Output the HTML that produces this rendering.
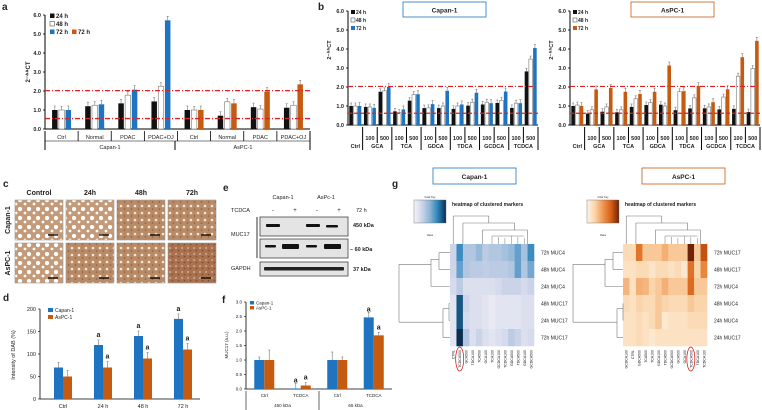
<!DOCTYPE html>
<html><head><meta charset="utf-8"><style>
body{margin:0;background:#fff}
svg{display:block;font-family:"Liberation Sans",Arial,sans-serif}
text{fill:#222}
</style></head><body>
<svg id="s" width="762" height="410" viewBox="0 0 762 410" xmlns="http://www.w3.org/2000/svg">
<defs>
<pattern id="tex1" width="9" height="9" patternUnits="userSpaceOnUse"><rect width="9" height="9" fill="#c49a78"/><circle cx="2" cy="2" r="2.2" fill="#fff"/><circle cx="7" cy="6" r="1.4" fill="#fff"/></pattern>
<pattern id="tex2" width="7" height="7" patternUnits="userSpaceOnUse"><rect width="7" height="7" fill="#b98a66"/><circle cx="2" cy="3" r="1.3" fill="#f2e6dc"/><circle cx="5.5" cy="6" r="0.8" fill="#8a5a3a"/></pattern>
<pattern id="tex3" width="6" height="6" patternUnits="userSpaceOnUse"><rect width="6" height="6" fill="#a9714e"/><circle cx="2" cy="2" r="0.9" fill="#d9b8a0"/><circle cx="4.5" cy="4.5" r="0.8" fill="#7a4a30"/></pattern>
</defs>
</svg>
<script>
// ---- data ----
const aCats=["Ctrl","Normal","PDAC","PDAC+OJ","Ctrl","Normal","PDAC","PDAC+OJ"];
const a24=[1.0,1.2,1.35,1.45,1.0,0.7,1.15,1.12];
const a48=[1.0,1.25,1.78,2.25,1.0,1.43,1.05,1.25];
const a72=[1.0,1.3,2.07,5.72,1.0,1.35,1.97,2.35];
const aTicks=["0.0","1.0","2.0","3.0","4.0","5.0","6.0"];
const bCats=["Ctrl","GCA","TCA","GDCA","TDCA","GCDCA","TCDCA"];
const bCap24=[1.0,0.95,1.75,0.72,1.28,0.89,0.89,0.85,1.02,1.08,1.16,0.9,2.82];
const bCap48=[1.0,0.95,1.8,0.65,1.6,0.9,1.0,1.0,1.2,1.2,1.3,1.15,3.47];
const bCap72=[1.0,0.9,2.0,0.82,1.62,1.1,1.8,1.08,1.7,1.15,1.76,1.15,4.05];
const bAs24=[1.0,0.6,0.7,0.67,0.95,1.05,1.07,0.78,0.87,0.88,0.82,0.85,0.68];
const bAs48=[1.05,0.8,0.95,0.8,1.38,1.18,1.0,1.75,1.43,0.95,1.47,2.57,2.97];
const bAs72=[1.0,1.87,1.95,1.75,1.63,1.75,3.13,1.78,2.05,1.2,1.88,3.57,4.43];
const dCats=["Ctrl","24 h","48 h","72 h"];
const dCap=[70,120,140,178];
const dAs=[50,70,90,110];
const dTicks=["0","50","100","150","200"];
const fCats=["Ctrl","TCDCA","Ctrl","TCDCA"];
const fCap=[1.0,0.02,1.0,2.47];
const fAs=[1.0,0.12,1.0,1.85];
const fTicks=["0.0","0.5","1.0","1.5","2.0","2.5","3.0"];
const gCapRows=["72h MUC4","48h MUC4","24h MUC4","48h MUC17","24h MUC17","72h MUC17"];
const gCapCols=["CTRL","TCDCA500","GCA500","TDCA100","TCA500","GCA100","TCA100","GCDCA100","TCDCA100","GDCA500","TDCA500","GDCA100","GCDCA500"];
const gCapVals=[
[1.2,3.5,1.8,1.8,2.3,1.6,1.8,1.8,2,2.3,3,2,3.5],
[1.2,3,1.8,1.6,1.6,1.5,1.6,1.6,1.6,1.8,3,1.8,2.8],
[1,1.6,0.8,0.8,0.8,0.8,0.8,1,1.3,1.3,1.3,1,1.3],
[0.6,4.4,1.2,0.8,0.8,0.6,0.4,0.6,0.6,0.6,0.6,0.8,0.8],
[0.6,4.4,1,0.8,0.8,0.6,0.4,0.6,0.6,0.6,0.6,0.8,0.8],
[0.6,5,1.8,0.8,1.3,0.8,0.6,0.8,1,1.6,1.3,0.8,1]];
const gAsRows=["72h MUC17","48h MUC17","72h MUC4","48h MUC4","24h MUC4","24h MUC17"];
const gAsCols=["GCDCA100","CTRL","GDCA500","TCA500","TCA100","GDCA100","TDCA500","GCDCA500","GCA500","GCA100","TCDCA500","TDCA100","TCDCA100"];
const gAsVals=[
[0.8,0.8,2.6,1.2,1.2,1.2,1.6,1.2,1.2,1.2,4,1.2,3.2],
[0.6,0.6,0.8,0.8,0.5,0.8,0.8,0.6,0.8,0.4,2.7,1,2.3],
[1.5,0.6,1.6,1.5,1,1.2,1.6,1.2,1.2,1.2,2.8,1.2,1.2],
[0.8,0.6,1,0.8,0.8,1.2,1,0.8,0.8,0.8,1.2,1,1],
[0.6,0.6,0.8,0.6,0.8,1.2,0.4,0.6,0.6,0.6,0.8,0.8,0.8],
[0.6,0.6,0.8,0.6,0.4,0.6,0.6,0.6,0.6,0.6,0.6,0.6,0.6]];

const BLUE="#1f74c2",ORANGE="#c55a11",RED="#e02020";
const S=document.getElementById('s');
function el(tag,at,parent){const e=document.createElementNS("http://www.w3.org/2000/svg",tag);for(const k in at)e.setAttribute(k,at[k]);(parent||S).appendChild(e);return e;}
function tx(x,y,t,sz,opt){opt=opt||{};const e=el('text',{x:x,y:y,'font-size':sz,'text-anchor':opt.a||'start','font-weight':opt.b?'bold':'normal'},opt.p);if(opt.fill)e.setAttribute('fill',opt.fill);if(opt.rot)e.setAttribute('transform','rotate('+opt.rot+' '+x+' '+y+')');e.textContent=t;return e;}
function ln(x1,y1,x2,y2,c,w,p,d){const e=el('line',{x1:x1,y1:y1,x2:x2,y2:y2,stroke:c||'#000','stroke-width':w||1},p);if(d)e.setAttribute('stroke-dasharray',d);return e;}
function grp(name){const g=el('g',{});return g;}

function bar(p,x,w,y0,y,fill,name,err){
 const r=el('rect',{x:x,y:Math.min(y,y0),width:w,height:Math.abs(y0-y),fill:fill,stroke:fill==='#fff'?'#777':'none','stroke-width':0.6},p);
 
 
 if(err){ln(x+w/2,y,x+w/2,y-err,'#888',0.7,p);ln(x+w/2-1,y-err,x+w/2+1,y-err,'#888',0.7,p);}
}

// ---------- panel a ----------
(function(){
 const g=grp('panel-a');
 const X0=45,X1=310,Y0=129,PU=19;
 const y=v=>Y0-v*PU;
 tx(2,10,'a',10,{b:1,p:g});
 ln(X0,y(6),X0,Y0,'#000',1,g);ln(X0,Y0,X1,Y0,'#000',1,g);
 aTicks.forEach((t,i)=>{tx(X0-4,y(+t)+2,t,5.5,{a:'end',b:1,p:g});ln(X0-2,y(+t),X0,y(+t),'#000',0.8,g);});
 tx(30,72,'2⁻ᐞᐞCT',6,{b:1,rot:-90,a:'middle',p:g});
 const gw=(X1-X0)/aCats.length;
 aCats.forEach((c,i)=>{const cx=X0+gw*(i+0.5);const col=i<4?BLUE:ORANGE;
  bar(g,cx-9.5,5.5,Y0,y(a24[i]),'#111','bar-24h-'+i,4);
  bar(g,cx-2.7,5.5,Y0,y(a48[i]),'#fff','bar-48h-'+i,3.5);
  bar(g,cx+4,5.5,Y0,y(a72[i]),col,'bar-72h-'+i,4);
  tx(cx,139,c,5.5,{a:'middle',p:g});
  ln(X0+gw*i,131,X0+gw*i,141,'#000',0.8,g);
 });
 ln(X0,131,X0,150,'#000',1,g);ln(175,141,175,150,'#000',1,g);ln(310,131,310,150,'#000',1,g);
 ln(X0,141,X1,141,'#000',0.6,g);
 tx(110,149,'Capan-1',5.5,{a:'middle',p:g});tx(243,149,'AsPC-1',5.5,{a:'middle',p:g});
 ln(X0,y(2.02),X1,y(2.02),RED,1.3,g,'5,2,1,2');ln(X0,y(0.55),X1,y(0.55),RED,1.3,g,'5,2,1,2');
 [['24 h','#111',50,18],['48 h','#fff',50,26],['72 h',BLUE,50,34],['72 h',ORANGE,72,34]].forEach(l=>{el('rect',{x:l[2],y:l[3]-4.5,width:4.5,height:4.5,fill:l[1],stroke:l[1]=='#fff'?'#555':'none','stroke-width':0.6},g);tx(l[2]+6,l[3],l[0],6,{b:1,p:g});});
})();

// ---------- panel b ----------
function panelB(name,X0,X1,d24,d48,d72,col,box,lbl){
 const g=grp(name);
 const Y0=125,PU=19;const y=v=>Y0-v*PU;
 ln(X0,y(6),X0,Y0,'#000',1,g);ln(X0,Y0,X1,Y0,'#000',1,g);
 aTicks.forEach(t=>{tx(X0-4,y(+t)+2,t,5.5,{a:'end',b:1,p:g});ln(X0-2,y(+t),X0,y(+t),'#000',0.8,g);});
 tx(X0-17,50,'2⁻ᐞᐞCT',5.5,{b:1,rot:-90,a:'middle',p:g});
 const gw=(X1-X0)/13;
 d24.forEach((v,i)=>{const cx=X0+gw*(i+0.5);
  bar(g,cx-6,3.6,Y0,y(d24[i]),'#111','bar-24h-'+i,3);
  bar(g,cx-1.8,3.6,Y0,y(d48[i]),'#fff','bar-48h-'+i,3);
  bar(g,cx+2.4,3.6,Y0,y(d72[i]),col,'bar-72h-'+i,3.5);
  if(i>0){tx(cx,140,i%2?'100':'500',5.5,{a:'middle',b:1,p:g});ln(X0+gw*i,127,X0+gw*i,143,'#000',1,g);}
 });
 tx(X0+gw*0.5,148,'Ctrl',5.5,{a:'middle',b:1,p:g});
 bCats.slice(1).forEach((c,k)=>{tx(X0+gw*(1+2*k+1),148,c,5.5,{a:'middle',b:1,p:g});ln(X0+gw*(1+2*k),143,X0+gw*(1+2*k),150,'#000',1,g);});
 ln(X1,127,X1,150,'#000',1,g);
 ln(X0,y(2.03),X1,y(2.03),RED,1.2,g,'5,2,1,2');ln(X0,y(0.62),X1,y(0.62),RED,1.2,g,'4,2');
 [['24 h','#111',14],['48 h','#fff',22],['72 h',col,30]].forEach(l=>{el('rect',{x:X0+3,y:l[2]-4,width:4,height:4,fill:l[1],stroke:l[1]=='#fff'?'#555':'none','stroke-width':0.6},g);tx(X0+8,l[2],l[0],5,{b:1,p:g});});
 el('rect',{x:box,y:2,width:83,height:15,fill:'#fff',stroke:col,'stroke-width':0.8},g);
 tx(box+41.5,12.5,lbl,6.5,{a:'middle',b:1,fill:col,p:g});
}
tx(318,10,'b',10,{b:1});
panelB('panel-b-capan',348,538,bCap24,bCap48,bCap72,BLUE,403,'Capan-1');
panelB('panel-b-aspc',570,760,bAs24,bAs48,bAs72,ORANGE,631,'AsPC-1');

// ---------- panel c ----------
(function(){
 const g=grp('panel-c');
 tx(3,187,'c',10,{b:1,p:g});
 ['Control','24h','48h','72h'].forEach((t,i)=>tx(39+51*i,195,t,7,{a:'middle',b:1,p:g}));
 tx(10,220,'Capan-1',7,{a:'middle',b:1,rot:-90,p:g});tx(10,263,'AsPC-1',7,{a:'middle',b:1,rot:-90,p:g});
 const tex=[['tex1','tex1','tex2','tex2'],['tex1','tex2','tex2','tex3']];
 for(let r=0;r<2;r++)for(let c=0;c<4;c++){const x=15+51*c,yy=200+43*r;
  el('rect',{x:x,y:yy,width:48,height:40,fill:'url(#'+tex[r][c]+')',stroke:'#999','stroke-width':0.6},g);
  ln(x+33,yy+35,x+43,yy+35,'#000',1.3,g);}
})();

// ---------- panel e ----------
(function(){
 const g=grp('panel-e');
 tx(223,191,'e',10,{b:1,p:g});
 tx(283,199,'Capan-1',5.5,{a:'middle',p:g});tx(326,199,'AsPc-1',5.5,{a:'middle',p:g});
 tx(231,212,'TCDCA',5.5,{p:g});['-','+','-','+'].forEach((t,i)=>tx(273+22*i,212,t,6,{a:'middle',p:g}));tx(356,212,'72 h',5.5,{p:g});
 tx(231,236,'MUC17',5.5,{p:g});tx(231,270,'GAPDH',5.5,{p:g});
 ln(257,217,257,258,'#000',0.8,g);
 [[260,217,19],[260,239,19],[260,262,14]].forEach(b=>el('rect',{x:b[0],y:b[1],width:88,height:b[2],fill:'#e4e4e4',stroke:'#444','stroke-width':0.8},g));
 [[266,224,14,3],[306,224,14,3],[326,225,12,2.5],[265,245,11,2.5],[282,244,17,5],[306,245,11,2.5],[324,244,17,5]].forEach(b=>el('rect',{x:b[0],y:b[1],width:b[2],height:b[3],fill:'#111',rx:1},g));
 el('rect',{x:264,y:267,width:80,height:3.5,fill:'#222',rx:1},g);
 tx(353,227,'450 kDa',5.5,{b:1,p:g});tx(350,251,'– 60 kDa',5.5,{b:1,p:g});tx(353,271,'37 kDa',5.5,{b:1,p:g});
})();

// ---------- panel d ----------
(function(){
 const g=grp('panel-d');
 tx(3,301,'d',10,{b:1,p:g});
 const X0=40,X1=200,Y0=399,PU=0.45;const y=v=>Y0-v*PU;
 ln(X0,y(200),X0,Y0,'#000',0.8,g);ln(X0,Y0,X1,Y0,'#000',0.8,g);
 dTicks.forEach(t=>{tx(X0-4,y(+t)+2,t,5.5,{a:'end',p:g});ln(X0-2,y(+t),X0,y(+t),'#000',0.6,g);});
 tx(15,355,'Intensity of DAB (%)',5.5,{a:'middle',rot:-90,p:g});
 const gw=(X1-X0)/4;
 dCats.forEach((c,i)=>{const cx=X0+gw*(i+0.5)+3;
  bar(g,cx-9,9,Y0,y(dCap[i]),BLUE,'bar-capan-'+i,5);
  bar(g,cx,9,Y0,y(dAs[i]),ORANGE,'bar-aspc-'+i,6);
  tx(cx,408,c,5.5,{a:'middle',p:g});
  if(i>0){tx(cx-4.5,y(dCap[i])-8,'a',7,{a:'middle',b:1,p:g});tx(cx+4.5,y(dAs[i])-9,'a',7,{a:'middle',b:1,p:g});}
 });
 el('rect',{x:48,y:308,width:5,height:4,fill:BLUE},g);tx(55,312,'Capan-1',5,{p:g});
 el('rect',{x:48,y:315,width:5,height:4,fill:ORANGE},g);tx(55,319,'AsPC-1',5,{p:g});
})();

// ---------- panel f ----------
(function(){
 const g=grp('panel-f');
 tx(222,303,'f',10,{b:1,p:g});
 const X0=246,X1=392,Y0=389,PU=29;const y=v=>Y0-v*PU;
 ln(X0,y(3),X0,Y0,'#000',0.8,g);ln(X0,Y0,X1,Y0,'#000',0.8,g);
 fTicks.forEach(t=>{tx(X0-4,y(+t)+1.5,t,4.5,{a:'end',p:g});ln(X0-2,y(+t),X0,y(+t),'#000',0.6,g);});
 tx(228,345,'MUC17 (a.u.)',4.5,{a:'middle',rot:-90,p:g});
 const gw=(X1-X0)/4;
 fCats.forEach((c,i)=>{const cx=X0+gw*(i+0.5);
  bar(g,cx-10,10,Y0,y(fCap[i]),BLUE,'bar-capan-'+i,i==0?3:i==2?8:5);
  bar(g,cx,10,Y0,y(fAs[i]),ORANGE,'bar-aspc-'+i,i==0?10:3);
  tx(cx,397,c,4.5,{a:'middle',p:g});
  if(i%2){tx(cx-5,y(fCap[i])-6,'a',7,{a:'middle',b:1,p:g});tx(cx+5,y(fAs[i])-6,'a',7,{a:'middle',b:1,p:g});}
 });
 ln(X0,391,X0,410,'#000',0.6,g);ln(X0+2*gw,391,X0+2*gw,410,'#000',0.6,g);
 tx(X0+gw,407,'450 kDa',4.5,{a:'middle',p:g});tx(X0+3*gw,407,'65 kDa',4.5,{a:'middle',p:g});
 el('rect',{x:250,y:301,width:4,height:3.5,fill:BLUE},g);tx(256,304.5,'Capan-1',4.5,{p:g});
 el('rect',{x:250,y:306,width:4,height:3.5,fill:ORANGE},g);tx(256,309.5,'AsPC-1',4.5,{p:g});
})();

// ---------- panel g ----------
function heat(name,X0,Xd,rows,cols,vals,vmax,stops,box,lbl,col){
 const g=grp(name);
 const W=84,H=102,Y0=244;
 const cw=W/cols.length,rh=H/rows.length;
 const mix=(t)=>{t=Math.max(0,Math.min(1,t));const n=stops.length-1;const k=Math.min(n-1,Math.floor(t*n));const f=t*n-k;const a=stops[k],b=stops[k+1];return 'rgb('+a.map((v,i)=>Math.round(v+(b[i]-v)*f)).join(',')+')';};
 vals.forEach((r,i)=>r.forEach((v,j)=>{const rc=el('rect',{x:X0+j*cw,y:Y0+i*rh,width:cw+0.3,height:rh+0.3,fill:mix(v/vmax)},g);
  
  }));
 rows.forEach((r,i)=>tx(X0+W+7,Y0+i*rh+rh/2+2,r,5,{p:g}));
 cols.forEach((c,j)=>tx(X0+j*cw+cw/2+1.5,Y0+H+4,c,3.5,{a:'end',rot:-90,p:g}));
 const kx=X0-36,gid='gr'+name;
 const lg=el('linearGradient',{id:gid},el('defs',{},g));
 stops.forEach((s,i)=>el('stop',{offset:i/(stops.length-1),'stop-color':'rgb('+s.join(',')+')'},lg));
 el('rect',{x:kx,y:200,width:32,height:23,fill:'url(#'+gid+')',stroke:'#666','stroke-width':0.4},g);
 tx(kx+16,198,'Color Key',2.5,{a:'middle',p:g});tx(kx+16,236,'Value',2.5,{a:'middle',p:g});
 tx(X0+2,206,'heatmap of clustered markers',5,{b:1,p:g});
 const dc='#777';
 ln(Xd,Y0+rh*1.2,Xd,Y0+rh*4.6,dc,0.6,g);ln(Xd,Y0+rh*1.2,Xd+32,Y0+rh*1.2,dc,0.6,g);ln(Xd,Y0+rh*4.6,Xd+44,Y0+rh*4.6,dc,0.6,g);
 ln(Xd+32,Y0+rh*0.9,Xd+32,Y0+rh*2.5,dc,0.6,g);ln(Xd+32,Y0+rh*2.5,X0,Y0+rh*2.5,dc,0.6,g);
 ln(Xd+40,Y0+rh*0.5,Xd+40,Y0+rh*1.5,dc,0.6,g);ln(Xd+40,Y0+rh*0.5,X0,Y0+rh*0.5,dc,0.6,g);ln(Xd+40,Y0+rh*1.5,X0,Y0+rh*1.5,dc,0.6,g);ln(Xd+32,Y0+rh*0.9,Xd+40,Y0+rh*0.9,dc,0.6,g);
 ln(Xd+44,Y0+rh*3.8,Xd+44,Y0+rh*5.5,dc,0.6,g);ln(Xd+44,Y0+rh*5.5,X0,Y0+rh*5.5,dc,0.6,g);
 ln(Xd+50,Y0+rh*3.5,Xd+50,Y0+rh*4.5,dc,0.6,g);ln(Xd+50,Y0+rh*3.5,X0,Y0+rh*3.5,dc,0.6,g);ln(Xd+50,Y0+rh*4.5,X0,Y0+rh*4.5,dc,0.6,g);ln(Xd+44,Y0+rh*3.8,Xd+50,Y0+rh*3.8,dc,0.6,g);
 ln(X0+cw*0.5,Y0,X0+cw*0.5,216,dc,0.6,g);ln(X0+cw*0.5,216,X0+cw*6,216,dc,0.6,g);ln(X0+cw*6,216,X0+cw*6,223,dc,0.6,g);
 ln(X0+cw*2,223,X0+cw*10,223,dc,0.6,g);ln(X0+cw*2,223,X0+cw*2,Y0,dc,0.6,g);ln(X0+cw*10,223,X0+cw*10,230,dc,0.6,g);
 ln(X0+cw*5,230,X0+cw*12,230,dc,0.6,g);ln(X0+cw*5,230,X0+cw*5,Y0,dc,0.6,g);ln(X0+cw*12,230,X0+cw*12,Y0,dc,0.6,g);
 for(let j=6;j<12;j++)ln(X0+cw*j+cw/2,Y0,X0+cw*j+cw/2,236+(j%3),dc,0.5,g);
 ln(X0+cw*6.5,236,X0+cw*11.5,236,dc,0.5,g);
 el('ellipse',{cx:X0+cw*(name.includes('capan')?1.5:10.5),cy:Y0+H+13,rx:4,ry:12,fill:'none',stroke:'#d00','stroke-width':0.7},g);
 el('rect',{x:box,y:168,width:83,height:16,fill:'#fff',stroke:col,'stroke-width':0.8},g);
 tx(box+41.5,179,lbl,6.5,{a:'middle',b:1,fill:col,p:g});
}
tx(392,187,'g',10,{b:1});
heat('panel-g-capan',450,399,gCapRows,gCapCols,gCapVals,5,[[246,244,250],[205,212,232],[140,180,215],[40,130,185],[10,45,80]],433,'Capan-1',BLUE);
heat('panel-g-aspc',623,573,gAsRows,gAsCols,gAsVals,4,[[254,244,232],[250,212,170],[240,150,80],[215,95,20],[110,35,10]],642,'AsPC-1',ORANGE);
</script>
</body></html>
